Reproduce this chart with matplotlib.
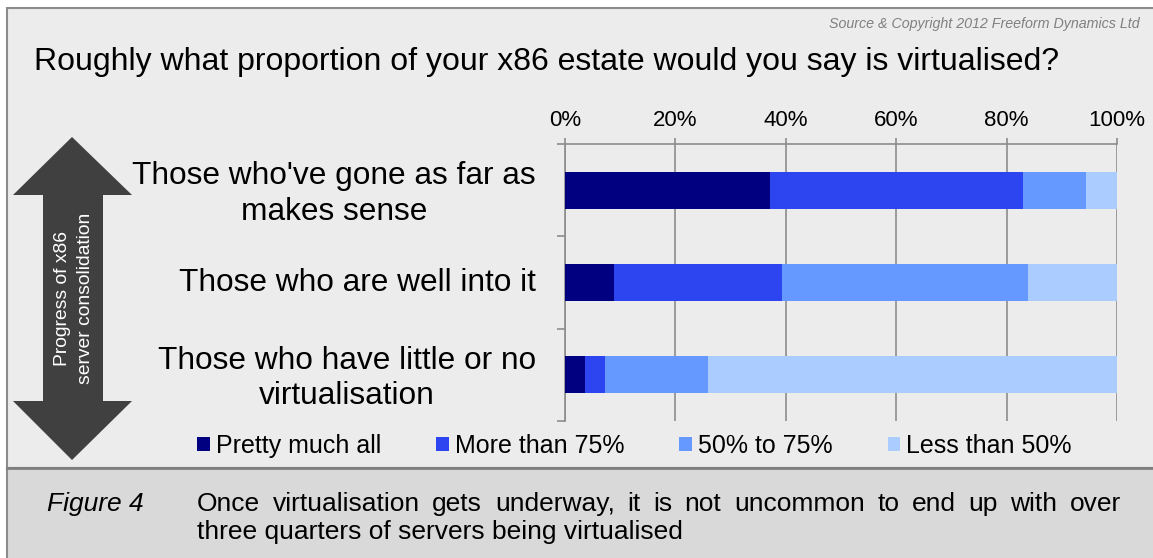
import numpy as np
import matplotlib
matplotlib.use("Agg")
import matplotlib.pyplot as plt
import matplotlib.transforms as mtransforms
from matplotlib.patches import Rectangle, Polygon

plt.rcParams['font.family'] = ['Liberation Sans', 'DejaVu Sans']

# Survey data (% of respondents per group)
categories = ["Those who've gone as far as\nmakes sense",
              "Those who are well into it",
              "Those who have little or no\nvirtualisation"]
pretty_much_all = [37.1, 8.9, 3.7]
more_than_75 = [45.8, 30.4, 3.6]
between_50_75 = [11.5, 44.6, 18.6]
less_than_50 = [5.6, 16.1, 74.1]
series_names = ["Pretty much all", "More than 75%", "50% to 75%", "Less than 50%"]
series_colors = ["#000080", "#2d45f0", "#6699ff", "#aaccff"]
x_ticks = [0, 20, 40, 60, 80, 100]

title = "Roughly what proportion of your x86 estate would you say is virtualised?"
source = "Source & Copyright 2012 Freeform Dynamics Ltd"
arrow_label = "Progress of x86\nserver consolidation"
fig_label = "Figure 4"
caption_lines = ["Once virtualisation gets underway, it is not uncommon to end up with over",
                 "three quarters of servers being virtualised"]

W, H = 1153, 558
fig = plt.figure(figsize=(W / 100, H / 100), dpi=100, facecolor="white")

# background layer in pixel coordinates
bg = fig.add_axes([0, 0, 1, 1], zorder=0)
bg.set_xlim(0, W)
bg.set_ylim(H, 0)
bg.axis("off")

bg.add_patch(Rectangle((7, 8), W, 460, facecolor="#ececec", edgecolor="#8c8c8c", lw=1.5))
bg.add_patch(Rectangle((7, 468), W, 95, facecolor="#d9d9d9", edgecolor="#8c8c8c", lw=1.5))
bg.plot([7, W], [468, 468], color="#7f7f7f", lw=2)

# double headed arrow
arrow_pts = [(72, 137), (132, 195), (103, 195), (103, 401), (132, 401),
             (72, 460), (13, 401), (43, 401), (43, 195), (13, 195)]
bg.add_patch(Polygon(arrow_pts, closed=True, facecolor="#404040", edgecolor="none"))
bg.text(74, 298, arrow_label, rotation=90, ha="center", va="center",
        color="white", fontsize=13.9, linespacing=1.45, multialignment="center")

bg.text(1140, 28, source, ha="right", va="baseline", fontsize=10.3, style="italic", color="#808080")
bg.text(34, 70, title, ha="left", va="baseline", fontsize=23, color="black")

# caption, first line justified
fig.canvas.draw()
renderer = fig.canvas.get_renderer()


def justified(line, x0, x1, y, **kw):
    words = line.split()
    arts = [bg.text(0, y, w, ha="left", va="baseline", **kw) for w in words]
    widths = [a.get_window_extent(renderer).width for a in arts]
    gap = (x1 - x0 - sum(widths)) / (len(words) - 1)
    x = x0
    for a, w in zip(arts, widths):
        a.set_x(x)
        x += w + gap


bg.text(47, 511, fig_label, ha="left", va="baseline", fontsize=19, style="italic")
justified(caption_lines[0], 197, 1121, 511, fontsize=19)
bg.text(197, 539.5, caption_lines[1], ha="left", va="baseline", fontsize=19)

# main chart
ax = fig.add_axes([565 / W, 1 - 421 / H, (1117 - 565) / W, (421 - 144) / H], zorder=1)
ax.set_facecolor("none")
y = np.arange(len(categories))
left = np.zeros(len(categories))
for vals, name, col in zip([pretty_much_all, more_than_75, between_50_75, less_than_50],
                           series_names, series_colors):
    ax.barh(y, vals, left=left, height=0.4, color=col, label=name, zorder=3)
    left += np.array(vals)

ax.set_xlim(0, 100)
ax.set_ylim(2.5, -0.5)
ax.xaxis.tick_top()
ax.set_xticks(x_ticks)
ax.set_xticklabels([f"{t}%" for t in x_ticks], fontsize=16)
ax.tick_params(axis="x", length=4.5, width=1.2, color="#8c8c8c", pad=5)
ax.grid(axis="x", color="#8c8c8c", lw=1.2, zorder=0)

ax.set_yticks([-0.5, 0.5, 1.5, 2.5])
ax.set_yticklabels([])
ax.tick_params(axis="y", which="major", length=6, width=1.2, color="#8c8c8c")
ax.set_yticks(y, minor=True)
ax.set_yticklabels(categories, minor=True, fontsize=22.8)
ax.tick_params(axis="y", which="minor", length=0, pad=21)
for lbl in ax.get_yticklabels(minor=True):
    lbl.set_multialignment("center")
    lbl.set_linespacing(1.24)
    # nudge the labels up a little
    lbl.set_transform(lbl.get_transform() + mtransforms.ScaledTranslation(0, 2.5 / 100, fig.dpi_scale_trans))

for side in ["right", "bottom"]:
    ax.spines[side].set_visible(False)
for side in ["left", "top"]:
    ax.spines[side].set_color("#8c8c8c")
    ax.spines[side].set_linewidth(1.2)

fig.legend(loc="center left", bbox_to_anchor=(197 / W, 1 - 446 / H), ncol=4,
           frameon=False, fontsize=18, handlelength=0.51, handleheight=0.51,
           handletextpad=0.24, columnspacing=2.2, borderpad=0, borderaxespad=0)

fig.savefig("out.png", dpi=100, facecolor=fig.get_facecolor())
